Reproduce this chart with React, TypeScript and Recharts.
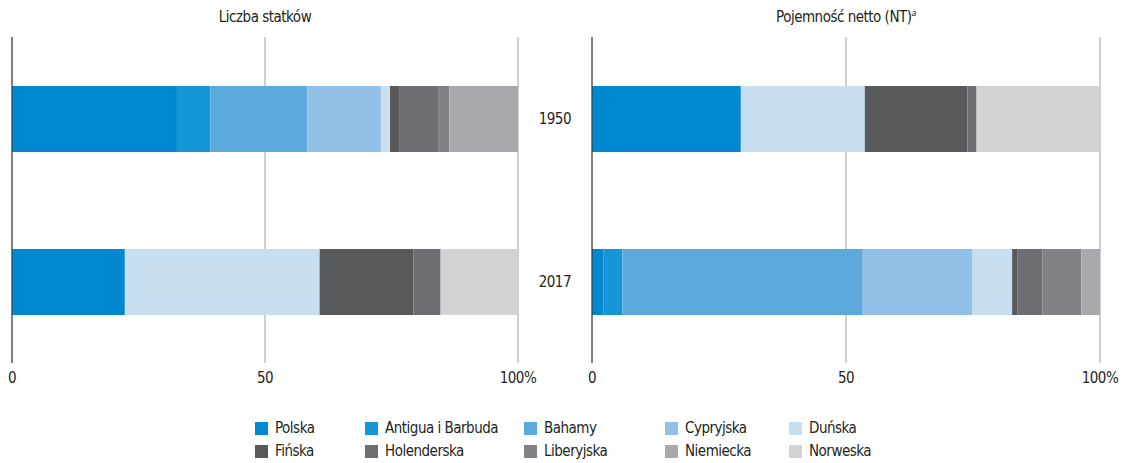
import React from 'react';
import { BarChart, Bar, XAxis, YAxis, CartesianGrid, ReferenceLine } from 'recharts';

const years = ['1950', '2017'];

const flags = [
  'Polska',
  'Antigua i Barbuda',
  'Bahamy',
  'Cypryjska',
  'Duńska',
  'Fińska',
  'Holenderska',
  'Liberyjska',
  'Niemiecka',
  'Norweska',
];

const flagColors = [
  '#0288d1',
  '#1596d6',
  '#5caadc',
  '#93c0e6',
  '#c8dff2',
  '#58595b',
  '#6d6e71',
  '#808285',
  '#a7a9ac',
  '#d1d3d4',
];

// share in %, one value per flag (same order as flags)
const shipCount1950 = [32.6, 6.6, 19.2, 14.5, 1.8, 1.8, 7.7, 2.2, 13.6, 0];
const shipCount2017 = [22.3, 0, 0, 0, 38.5, 18.5, 5.4, 0, 0, 15.3];
const netTonnage1950 = [29.3, 0, 0, 0, 24.4, 20.2, 1.8, 0, 0, 24.3];
const netTonnage2017 = [2.3, 3.7, 47.3, 21.5, 7.9, 1.1, 4.9, 7.6, 3.7, 0];

const xTicks = [0, 50, 100];

const FONT = "'Liberation Sans Narrow', 'DejaVu Sans Condensed', 'Roboto', sans-serif";
const TEXT = '#231f20';
const tickStyle = { fill: TEXT, fontSize: 15, fontFamily: FONT, letterSpacing: '-0.5px' };

function toRows(byYear: number[][]) {
  return years.map((year, yi) => {
    const row: Record<string, string | number> = { year };
    flags.forEach((_, fi) => {
      row['f' + fi] = byYear[yi][fi];
    });
    return row;
  });
}

const shipRows = toRows([shipCount1950, shipCount2017]);
const tonnageRows = toRows([netTonnage1950, netTonnage2017]);

const tickFmt = (v: number) => (v === 100 ? '100%' : String(v));

function Panel({
  data,
  width,
  margin,
  showYears,
}: {
  data: Record<string, string | number>[];
  width: number;
  margin: { top: number; right: number; left: number; bottom: number };
  showYears: boolean;
}) {
  return (
    <BarChart width={width} height={400} data={data} layout="vertical" margin={margin} barSize={66}>
      <CartesianGrid horizontal={false} stroke="#9d9fa2" strokeWidth={1} />
      <XAxis
        type="number"
        domain={[0, 100]}
        ticks={xTicks}
        tickFormatter={tickFmt}
        axisLine={false}
        tickLine={false}
        tickSize={0}
        tickMargin={9}
        height={30}
        tick={tickStyle}
      />
      <YAxis
        type="category"
        dataKey="year"
        hide={!showYears}
        width={72}
        axisLine={false}
        tickLine={false}
        tickSize={0}
        tickMargin={21}
        tick={tickStyle}
      />
      {flags.map((f, i) => (
        <Bar key={f} dataKey={'f' + i} name={f} stackId="a" fill={flagColors[i]} isAnimationActive={false} />
      ))}
      <ReferenceLine x={0} stroke="#333" strokeWidth={1} />
    </BarChart>
  );
}

export default function App() {
  return (
    <div
      style={{
        position: 'absolute',
        left: 0,
        top: 0,
        width: 1124,
        height: 463,
        background: '#fff',
        fontFamily: FONT,
        color: TEXT,
        letterSpacing: '-0.5px',
      }}
    >
      <div style={{ position: 'absolute', left: 12, width: 506, top: 8, textAlign: 'center', fontSize: 15 }}>
        Liczba statków
      </div>
      <div style={{ position: 'absolute', left: 592, width: 508, top: 8, textAlign: 'center', fontSize: 15 }}>
        Pojemność netto (NT)
        <sup style={{ fontStyle: 'italic', fontSize: 9 }}>a</sup>
      </div>
      <div style={{ position: 'absolute', left: 0, top: 0 }}>
        <Panel data={shipRows} width={560} margin={{ top: 37, right: 42, left: 12, bottom: 7 }} showYears={false} />
      </div>
      <div style={{ position: 'absolute', left: 520, top: 0 }}>
        <Panel data={tonnageRows} width={604} margin={{ top: 37, right: 24, left: 0, bottom: 7 }} showYears={true} />
      </div>
      <div
        style={{
          position: 'absolute',
          left: 255,
          top: 420,
          display: 'grid',
          gridTemplateColumns: '110px 159px 141px 124px 90px',
          rowGap: 7,
          fontSize: 15,
        }}
      >
        {flags.map((f, i) => (
          <div key={f} style={{ display: 'flex', alignItems: 'center', height: 16 }}>
            <span
              style={{ display: 'inline-block', width: 13, height: 13, background: flagColors[i], marginRight: 7 }}
            />
            <span>{f}</span>
          </div>
        ))}
      </div>
    </div>
  );
}
